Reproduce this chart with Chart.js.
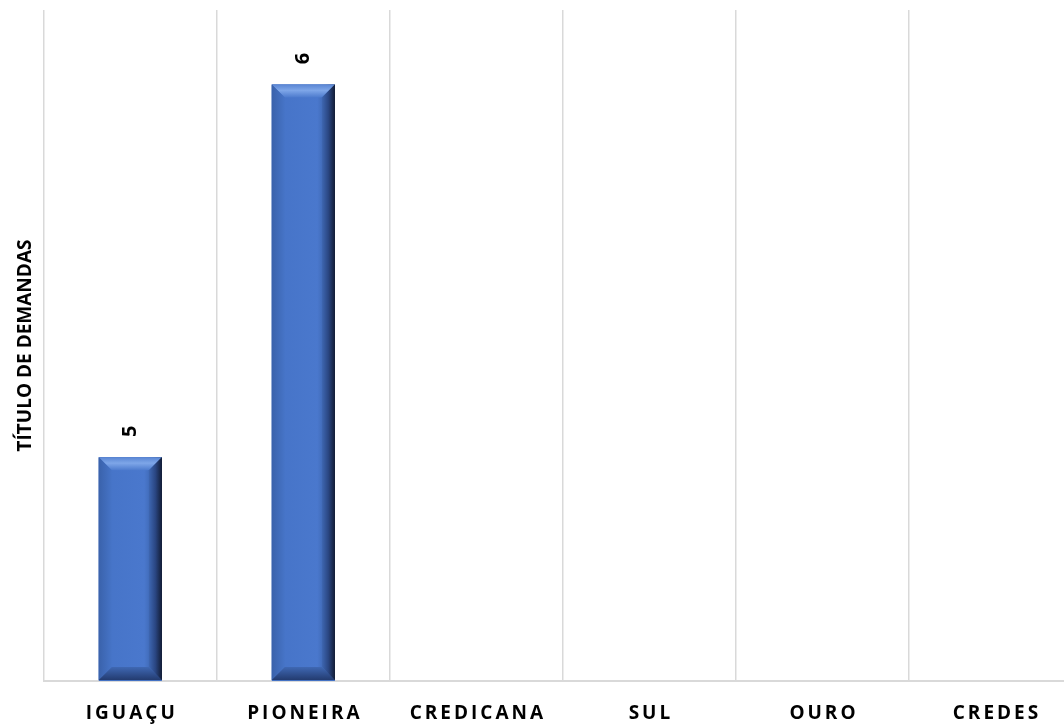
<!DOCTYPE html>
<html>
<head>
<meta charset="utf-8">
<script src="https://cdn.jsdelivr.net/npm/chart.js@4"></script>
<style>
  html, body { margin: 0; padding: 0; background: #fff; overflow: hidden; }
  #wrap { width: 1090px; height: 724px; }
</style>
</head>
<body>
<div id="wrap"><canvas id="demandas"></canvas></div>
<script>
// dados do grafico
const cooperativas = ['IGUAÇU', 'PIONEIRA', 'CREDICANA', 'SUL', 'OURO', 'CREDES'];
const demandas = [5, 6, null, null, null, null];
const eixoMin = 4.4;
const eixoMax = 6.2;

// bevel look like the excel bars
const bevelPlugin = {
  id: 'bevel',
  afterDatasetsDraw(chart) {
    const ctx = chart.ctx;
    chart.getDatasetMeta(0).data.forEach((bar, i) => {
      if (demandas[i] == null) return;
      const p = bar.getProps(['x', 'y', 'base', 'width'], true);
      const l = p.x - p.width / 2, r = p.x + p.width / 2;
      const t = p.y, b = Math.min(p.base, chart.chartArea.bottom - 1);
      const s = 13; // bevel size
      ctx.save();
      // body
      const g = ctx.createLinearGradient(l, 0, r, 0);
      g.addColorStop(0, '#3d66b2');
      g.addColorStop(0.1, '#4674c8');
      g.addColorStop(0.72, '#4a78cd');
      g.addColorStop(0.85, '#3d66b0');
      g.addColorStop(1, '#16233f');
      ctx.fillStyle = g;
      ctx.fillRect(l, t, r - l, b - t);
      // top
      const gt = ctx.createLinearGradient(0, t, 0, t + s);
      gt.addColorStop(0, '#5a86d4');
      gt.addColorStop(0.45, '#7ea6e8');
      gt.addColorStop(1, '#4c7acd');
      ctx.fillStyle = gt;
      ctx.beginPath();
      ctx.moveTo(l, t); ctx.lineTo(r, t); ctx.lineTo(r - s, t + s); ctx.lineTo(l + s, t + s);
      ctx.closePath(); ctx.fill();
      // right side
      const gr = ctx.createLinearGradient(r - s, 0, r, 0);
      gr.addColorStop(0, '#3e67b2');
      gr.addColorStop(0.5, '#2a4682');
      gr.addColorStop(1, '#121c35');
      ctx.fillStyle = gr;
      ctx.beginPath();
      ctx.moveTo(r, t); ctx.lineTo(r, b); ctx.lineTo(r - s, b - s); ctx.lineTo(r - s, t + s);
      ctx.closePath(); ctx.fill();
      // left side
      const gl = ctx.createLinearGradient(l, 0, l + s, 0);
      gl.addColorStop(0, '#3a62ab');
      gl.addColorStop(1, '#4674c7');
      ctx.fillStyle = gl;
      ctx.beginPath();
      ctx.moveTo(l, t); ctx.lineTo(l + s, t + s); ctx.lineTo(l + s, b - s); ctx.lineTo(l, b);
      ctx.closePath(); ctx.fill();
      // bottom
      const gb = ctx.createLinearGradient(0, b - s, 0, b);
      gb.addColorStop(0, '#3f68b3');
      gb.addColorStop(1, '#233b70');
      ctx.fillStyle = gb;
      ctx.beginPath();
      ctx.moveTo(l, b); ctx.lineTo(r, b); ctx.lineTo(r - s, b - s); ctx.lineTo(l + s, b - s);
      ctx.closePath(); ctx.fill();
      ctx.restore();
    });
  }
};

// rotated value labels + spaced category labels
const textPlugin = {
  id: 'textos',
  afterDraw(chart) {
    const ctx = chart.ctx;
    ctx.save();
    ctx.fillStyle = '#000';
    ctx.font = 'bold 20px "Open Sans"';
    ctx.textAlign = 'center';
    ctx.textBaseline = 'middle';
    chart.getDatasetMeta(0).data.forEach((bar, i) => {
      if (demandas[i] == null) return;
      ctx.save();
      ctx.translate(bar.x, bar.y - 26);
      ctx.rotate(-Math.PI / 2);
      ctx.fillText(String(demandas[i]), 0, 0);
      ctx.restore();
    });
    const xs = chart.scales.x;
    ctx.font = 'bold 19px "Open Sans"';
    ctx.letterSpacing = '3px';
    ctx.textBaseline = 'alphabetic';
    cooperativas.forEach((c, i) => {
      ctx.fillText(c, xs.getPixelForValue(i) + 1.5, 719);
    });
    ctx.restore();
  }
};

new Chart(document.getElementById('demandas'), {
  type: 'bar',
  data: {
    labels: cooperativas,
    datasets: [{
      data: demandas,
      backgroundColor: '#4472c4',
      categoryPercentage: 1,
      barPercentage: 0.365
    }]
  },
  options: {
    responsive: true,
    maintainAspectRatio: false,
    animation: false,
    layout: { padding: { left: 14, top: 10, right: 8, bottom: 43 } },
    plugins: { legend: { display: false }, tooltip: { enabled: false } },
    scales: {
      x: {
        ticks: { display: false },
        grid: { color: '#d9d9d9', lineWidth: 1.5, offset: true, drawTicks: false },
        border: { color: '#d9d9d9', width: 2 }
      },
      y: {
        min: eixoMin,
        max: eixoMax,
        ticks: { display: false },
        grid: { display: false, drawTicks: false },
        border: { display: false },
        title: {
          display: true,
          text: 'TÍTULO DE DEMANDAS',
          color: '#000',
          font: { family: '"Open Sans"', size: 19, weight: 'bold' },
          padding: { top: 0, bottom: 7 }
        }
      }
    }
  },
  plugins: [bevelPlugin, textPlugin]
});
</script>
</body>
</html>
